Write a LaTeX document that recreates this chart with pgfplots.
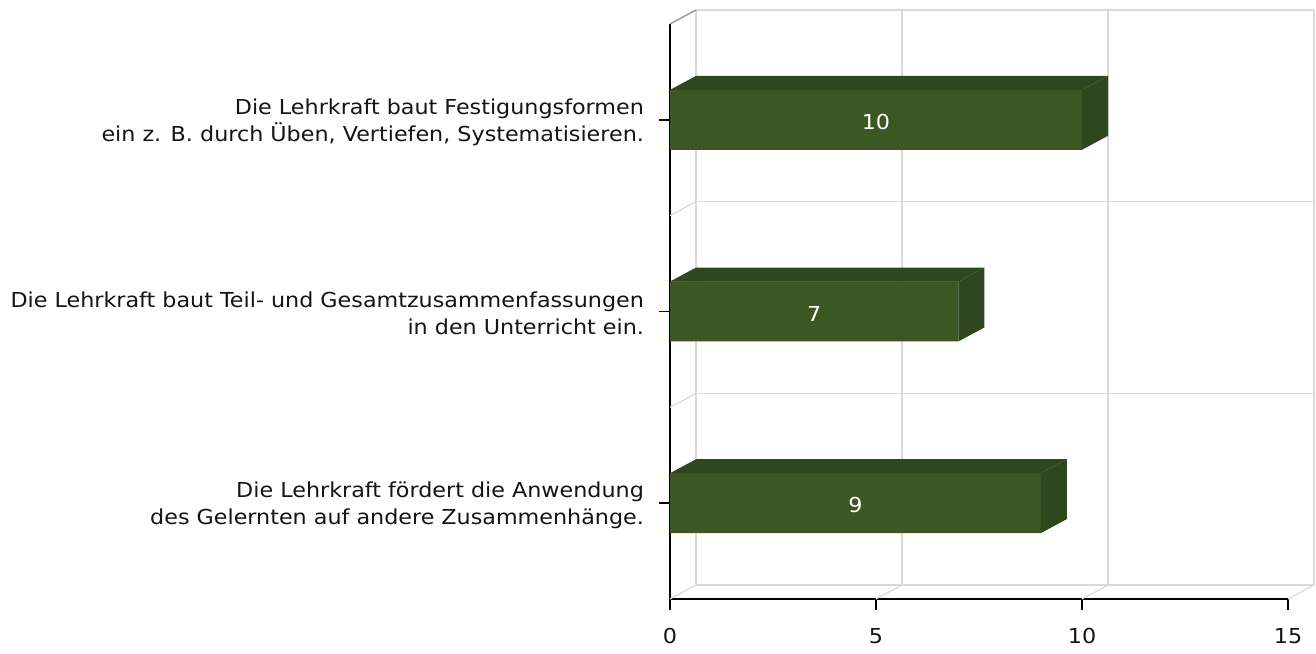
\documentclass[border=0pt]{standalone}
\usepackage{pgfplots}
\pgfplotsset{compat=1.18}
\usepackage{pgfplotstable}
\usepackage{fontspec}
\setmainfont{DejaVu Sans}[FakeStretch=1.08]
\definecolor{barfront}{RGB}{59,87,36}
\definecolor{bardark}{RGB}{46,71,30}
\definecolor{gridc}{RGB}{217,217,217}
\definecolor{txt}{RGB}{20,20,20}
\pgfplotstableread{
y v
3 10
2 7
1 9
}\data
\begin{document}
\begin{tikzpicture}
\useasboundingbox (0,0) rectangle (658pt,326.5pt);
\begin{axis}[
  at={(335pt,27pt)}, anchor=south west,
  scale only axis, width=309pt, height=287.5pt,
  xmin=0, xmax=15, ymin=0.5, ymax=3.5,
  clip=false,
  axis x line=bottom, axis y line=left,
  axis line style={black, line width=0.9pt, -},
  xtick={0,5,10,15},
  ytick={1,2,3},
  yticklabels={{Die Lehrkraft fördert die Anwendung\\des Gelernten auf andere Zusammenhänge.},
               {Die Lehrkraft baut Teil- und Gesamtzusammenfassungen\\in den Unterricht ein.},
               {Die Lehrkraft baut Festigungsformen\\ein z. B. durch Üben, Vertiefen, Systematisieren.}},
  tick align=outside, major tick length=5.5pt,
  every tick/.style={black, line width=0.7pt},
  yticklabel style={align=right, font=\fontsize{10.3}{13.5}\selectfont, text=txt, yshift=-1pt},
  xticklabel style={font=\fontsize{10.3}{13}\selectfont, text=txt},
  xticklabel shift=5.5pt,
  yticklabel shift=4pt,
  /pgf/number format/assume math mode=true,
]
% back wall vertical lines
\draw[gridc, line width=0.6pt] (axis cs:0.631,0.5729) -- (axis cs:0.631,3.5729);
\draw[gridc, line width=0.6pt] (axis cs:5.631,0.5729) -- (axis cs:5.631,3.5729);
\draw[gridc, line width=0.6pt] (axis cs:10.631,0.5729) -- (axis cs:10.631,3.5729);
\draw[gridc, line width=0.6pt] (axis cs:15.631,0.5729) -- (axis cs:15.631,3.5729);
% floor diagonals
\draw[gridc, line width=0.6pt] (axis cs:0,0.5) -- (axis cs:0.631,0.5729);
\draw[gridc, line width=0.6pt] (axis cs:5,0.5) -- (axis cs:5.631,0.5729);
\draw[gridc, line width=0.6pt] (axis cs:10,0.5) -- (axis cs:10.631,0.5729);
\draw[gridc, line width=0.6pt] (axis cs:15,0.5) -- (axis cs:15.631,0.5729);
% back wall horizontal lines
\draw[gridc, line width=0.6pt] (axis cs:0.631,0.5729) -- (axis cs:15.631,0.5729);
\draw[gridc, line width=0.6pt] (axis cs:0.631,1.5729) -- (axis cs:15.631,1.5729);
\draw[gridc, line width=0.6pt] (axis cs:0.631,2.5729) -- (axis cs:15.631,2.5729);
\draw[gridc, line width=0.6pt] (axis cs:0.631,3.5729) -- (axis cs:15.631,3.5729);
% side wall diagonals
\draw[gridc, line width=0.6pt] (axis cs:0,1.5) -- (axis cs:0.631,1.5729);
\draw[gridc, line width=0.6pt] (axis cs:0,2.5) -- (axis cs:0.631,2.5729);
\draw[gray!80, line width=0.7pt] (axis cs:0,3.5) -- (axis cs:0.631,3.5729);
% front faces
\addplot[xbar, bar width=30pt, fill=barfront, draw=none, forget plot] table[x=v,y=y]{\data};
% top faces
\addplot[fill=bardark, draw=none] coordinates {(0,3.15625) (0.631,3.22915) (10.631,3.22915) (10,3.15625)} -- cycle;
\addplot[fill=bardark, draw=none] coordinates {(0,2.15625) (0.631,2.22915) (7.631,2.22915) (7,2.15625)} -- cycle;
\addplot[fill=bardark, draw=none] coordinates {(0,1.15625) (0.631,1.22915) (9.631,1.22915) (9,1.15625)} -- cycle;
% side faces
\addplot[fill=bardark, draw=none] coordinates {(10,2.84375) (10,3.15625) (10.631,3.22915) (10.631,2.91665)} -- cycle;
\addplot[fill=bardark, draw=none] coordinates {(7,1.84375) (7,2.15625) (7.631,2.22915) (7.631,1.91665)} -- cycle;
\addplot[fill=bardark, draw=none] coordinates {(9,0.84375) (9,1.15625) (9.631,1.22915) (9.631,0.91665)} -- cycle;
% value labels
\node[white, font=\fontsize{10.3}{13}\selectfont, yshift=-1pt] at (axis cs:5,3) {10};
\node[white, font=\fontsize{10.3}{13}\selectfont, yshift=-1pt] at (axis cs:3.5,2) {7};
\node[white, font=\fontsize{10.3}{13}\selectfont, yshift=-1pt] at (axis cs:4.5,1) {9};
\end{axis}
\end{tikzpicture}
\end{document}
